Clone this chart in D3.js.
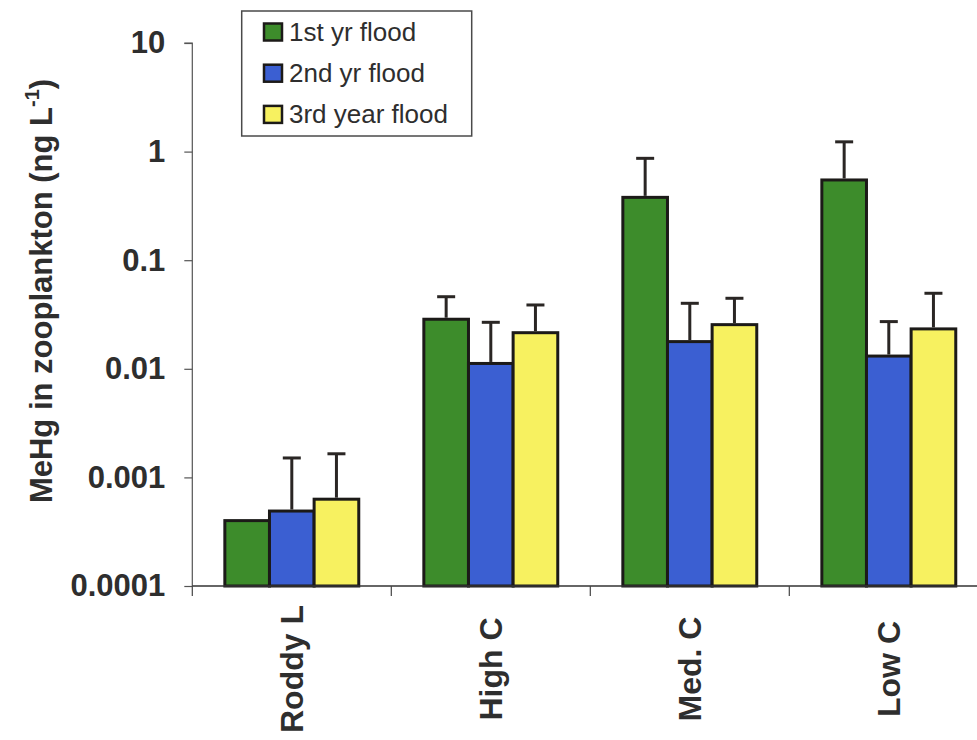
<!DOCTYPE html>
<html>
<head>
<meta charset="utf-8">
<script src="https://cdn.jsdelivr.net/npm/d3@7"></script>
<style>
  html, body { margin: 0; padding: 0; background: #ffffff; }
  svg { display: block; }
  text { font-family: "Liberation Sans", Arial, sans-serif; fill: #2e2e2e; }
</style>
</head>
<body>
<svg id="chart" width="977" height="740"></svg>
<script>
// Sites (categories) and flood years (series)
const sites = ["Roddy L", "High C", "Med. C", "Low C"];
const floods = ["1st yr flood", "2nd yr flood", "3rd year flood"];
const floodColors = ["#3d8c2b", "#3b5fd2", "#f7f160"];

// Mean MeHg in zooplankton (ng/L), one array per flood year, ordered as sites
const firstYear  = [0.0004, 0.0286, 0.379, 0.548];
const secondYear = [0.00049, 0.0112, 0.0178, 0.0131];
const thirdYear  = [0.00063, 0.0215, 0.0255, 0.0233];

// Standard errors (upper whisker); null where no whisker is drawn
const firstYearSE  = [null, 0.0175, 0.488, 0.682];
const secondYearSE = [0.00102, 0.0156, 0.0223, 0.0141];
const thirdYearSE  = [0.00102, 0.0172, 0.0191, 0.0263];

// Y axis ticks
const yTicks = [0.0001, 0.001, 0.01, 0.1, 1, 10];
const yTickLabels = ["0.0001", "0.001", "0.01", "0.1", "1", "10"];

const means = [firstYear, secondYear, thirdYear];
const errors = [firstYearSE, secondYearSE, thirdYearSE];

const rows = [];
sites.forEach((site, i) => {
  floods.forEach((fl, j) => {
    rows.push({ site, flood: fl, s: j, value: means[j][i], se: errors[j][i] });
  });
});

const svg = d3.select("#chart");

const plotLeft = 192.3, plotBottom = 586, plotTop = 43;
const step = 199;
const plotRight = plotLeft + step * sites.length;

const y = d3.scaleLog().domain([1e-4, 10]).range([plotBottom, plotTop]);

const x0 = d3.scaleBand()
  .domain(sites)
  .range([plotLeft, plotRight])
  .paddingInner(0.327)
  .paddingOuter(0.1635);

const x1 = d3.scaleBand()
  .domain(floods)
  .range([0, x0.bandwidth()])
  .padding(0);

const color = d3.scaleOrdinal().domain(floods).range(floodColors);

// Bars
const bars = svg.append("g").attr("class", "bars");
bars.selectAll("rect")
  .data(rows)
  .join("rect")
  .attr("x", d => x0(d.site) + x1(d.flood))
  .attr("y", d => y(d.value))
  .attr("width", x1.bandwidth())
  .attr("height", d => plotBottom - y(d.value))
  .attr("fill", d => color(d.flood))
  .attr("stroke", "#1c1a18")
  .attr("stroke-width", 3);

// Error bars (upper only)
const errRows = rows.filter(d => d.se != null);
const eb = svg.append("g").attr("class", "errorbars")
  .attr("stroke", "#2a2624").attr("stroke-width", 3);
const cx = d => x0(d.site) + x1(d.flood) + x1.bandwidth() / 2;
eb.selectAll("line.stem")
  .data(errRows)
  .join("line")
  .attr("class", "stem")
  .attr("x1", cx)
  .attr("x2", cx)
  .attr("y1", d => y(d.value) - 1.5)
  .attr("y2", d => y(d.value + d.se));
eb.selectAll("line.cap")
  .data(errRows)
  .join("line")
  .attr("class", "cap")
  .attr("x1", d => cx(d) - 9)
  .attr("x2", d => cx(d) + 9)
  .attr("y1", d => y(d.value + d.se))
  .attr("y2", d => y(d.value + d.se));

// Y axis
const yAxis = d3.axisLeft(y)
  .tickValues(yTicks)
  .tickFormat((d, i) => yTickLabels[i])
  .tickSize(8)
  .tickPadding(19);
const gy = svg.append("g")
  .attr("transform", `translate(${plotLeft},0)`)
  .call(yAxis);
gy.select(".domain").attr("stroke", "#555").attr("stroke-width", 1.2)
  .attr("d", `M-8,${plotTop}H0V${plotBottom}`);
gy.selectAll(".tick line").attr("stroke", "#555").attr("stroke-width", 1.2);
gy.selectAll(".tick text")
  .attr("font-size", 31)
  .attr("font-weight", "bold")
  .attr("fill", "#2e2e2e")
  .style("font-family", "'Liberation Sans', Arial, sans-serif");

// X axis: baseline and category boundary ticks
const gx = svg.append("g");
gx.append("line")
  .attr("x1", plotLeft).attr("x2", 977)
  .attr("y1", plotBottom).attr("y2", plotBottom)
  .attr("stroke", "#333").attr("stroke-width", 1.5);
const boundaries = sites.map(s => x0(s) - x0.step() * x0.paddingOuter());
gx.selectAll("line.bt")
  .data(boundaries)
  .join("line")
  .attr("class", "bt")
  .attr("x1", d => d).attr("x2", d => d)
  .attr("y1", plotBottom).attr("y2", plotBottom + 10)
  .attr("stroke", "#444").attr("stroke-width", 1.2);

// Category labels, rotated
gx.selectAll("text.cat")
  .data(sites)
  .join("text")
  .attr("class", "cat")
  .attr("transform", d => `translate(${x0(d) + x0.bandwidth() / 2 + 11},669) rotate(-90)`)
  .attr("text-anchor", "middle")
  .attr("font-size", 32)
  .attr("font-weight", "bold")
  .text(d => d);

// Y axis title
const title = svg.append("text")
  .attr("transform", "translate(52,291) rotate(-90)")
  .attr("text-anchor", "middle")
  .attr("font-size", 31)
  .attr("font-weight", "bold");
title.append("tspan").text("MeHg in zooplankton (ng L");
title.append("tspan").attr("font-size", 20).attr("dy", -13).text("-1");
title.append("tspan").attr("dy", 13).text(")");

// Legend
const legend = svg.append("g");
legend.append("rect")
  .attr("x", 241.7).attr("y", 11)
  .attr("width", 230).attr("height", 125)
  .attr("fill", "#ffffff")
  .attr("stroke", "#4a4a4a").attr("stroke-width", 1.5);
const items = legend.selectAll("g.item")
  .data(floods)
  .join("g")
  .attr("class", "item")
  .attr("transform", (d, i) => `translate(0,${i * 41.2})`);
items.append("rect")
  .attr("x", 264).attr("y", 23.5)
  .attr("width", 18).attr("height", 17)
  .attr("fill", d => color(d))
  .attr("stroke", "#1c1a18").attr("stroke-width", 2.5);
items.append("text")
  .attr("x", 289).attr("y", 41)
  .attr("font-size", 26)
  .text(d => d);
</script>
</body>
</html>
